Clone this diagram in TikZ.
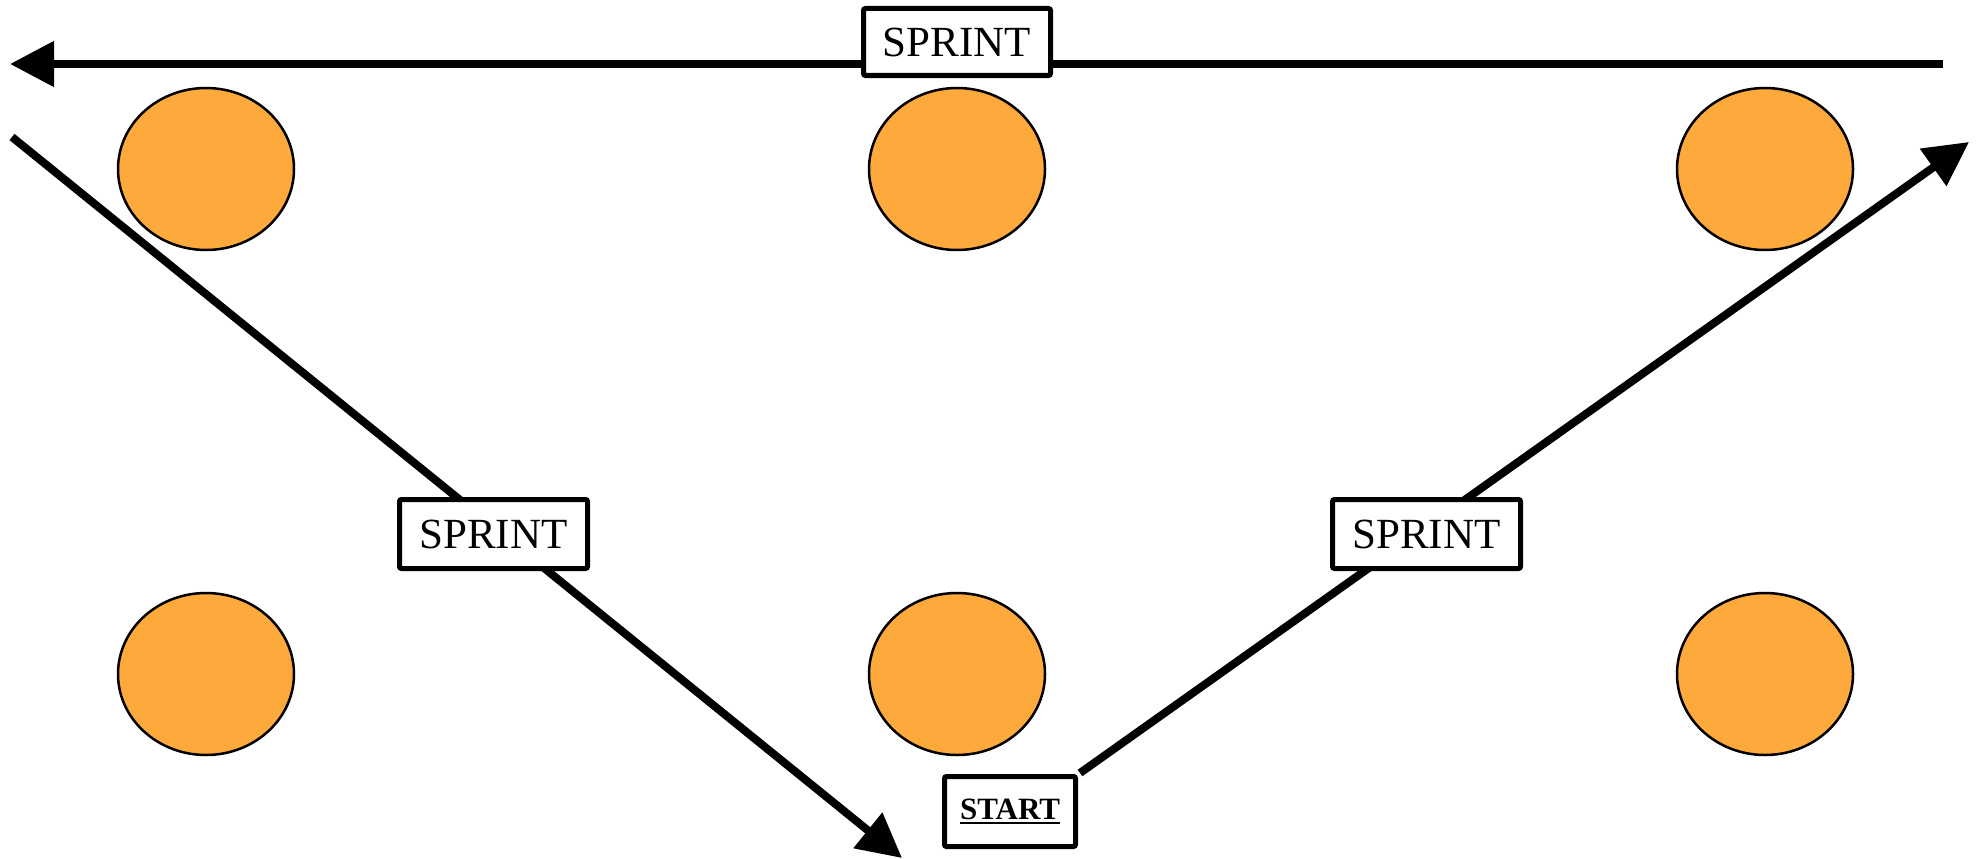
\documentclass[tikz,border=0pt]{standalone}
\usepackage{fontspec}
\setmainfont{Liberation Serif}
\usetikzlibrary{arrows.meta,shapes.geometric}
\definecolor{cone}{RGB}{253,169,60}
\newcommand\myul[1]{\setbox0\hbox{#1}\rlap{\rule[-5pt]{\wd0}{2.5pt}}\box0}
\tikzset{
  cone/.style={ellipse, draw=black, line width=2.5pt, fill=cone, minimum width=176pt, minimum height=162pt, inner sep=0pt},
  labelbox/.style={rectangle, draw=black, line width=5pt, fill=white, rounded corners=2pt, inner sep=0pt,
     font=\fontsize{43}{50}\selectfont},
  run/.style={line width=8pt, -{Triangle[length=44pt,width=44pt]}}
}
\begin{document}
\begin{tikzpicture}[x=1pt,y=-1pt]
\useasboundingbox (0,0) rectangle (1978,859);
% cones
\node[cone] (c1) at (206,169) {};
\node[cone] (c2) at (957,169) {};
\node[cone] (c3) at (1765,169) {};
\node[cone] (c4) at (206,674) {};
\node[cone] (c5) at (957,674) {};
\node[cone] (c6) at (1765,674) {};
% start
\node[labelbox, minimum width=131pt, minimum height=70pt] (start) at (1010,811.5)
  {\fontsize{31}{36}\selectfont\bfseries\myul{START}};
% free ends
\coordinate (topR) at (1943,64);
\coordinate (topL) at (10,64);
\coordinate (leftS) at (12,137);
\coordinate (leftE) at (902,858);
\coordinate (rightE) at (1969,142);
% runs
\draw[run] (start.north east) ++(2,-1) -- (rightE);
\draw[run] (topR) -- (topL);
\draw[run] (leftS) -- (leftE);
% labels
\node[labelbox, minimum width=187pt, minimum height=67pt] (s1) at (957,42) {SPRINT};
\node[labelbox, minimum width=188pt, minimum height=69pt] (s2) at (493.5,534) {SPRINT};
\node[labelbox, minimum width=188pt, minimum height=69pt] (s3) at (1426.5,534) {SPRINT};
\end{tikzpicture}
\end{document}
